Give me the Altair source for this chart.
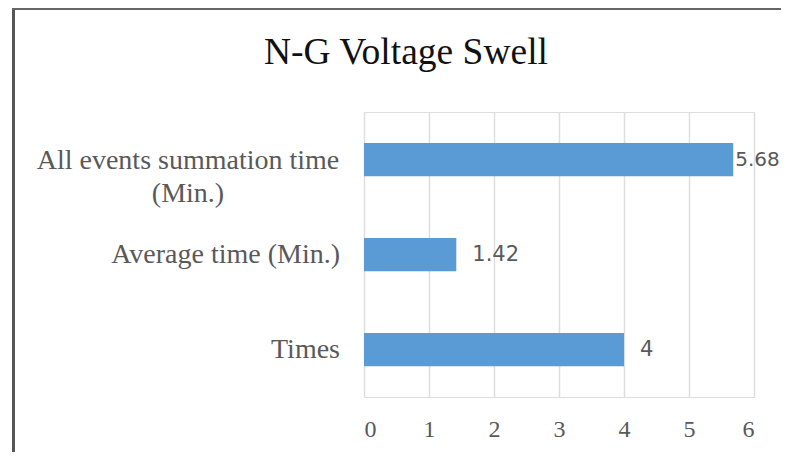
import altair as alt
import pandas as pd

# ---- data ----
categories = ["All events summation time (Min.)", "Average time (Min.)", "Times"]
label_text = ["All events summation time\n(Min.)", "Average time (Min.)", "Times"]
values = [5.68, 1.42, 4]
value_labels = ["5.68", "1.42", "4"]
x_ticks = [0, 1, 2, 3, 4, 5, 6]
title_text = "N-G Voltage Swell"

df = pd.DataFrame({
    "category": categories,
    "label": label_text,
    "value": values,
    "vlabel": value_labels,
    "multi": [True, False, False],
    "edge": [True, False, False],
})

W, H = 390, 285
PAD_L, PAD_T, PAD_R, PAD_B = 356, 104, 27, 55
GRAY = "#595959"

y_enc = alt.Y("category:N", sort=categories,
              scale=alt.Scale(paddingInner=0.65, paddingOuter=0.325),
              axis=alt.Axis(labels=False, ticks=False, domain=False, title=None, grid=False))

base = alt.Chart(df)

bars = base.mark_bar(color="#5b9bd5").encode(
    x=alt.X("value:Q", scale=alt.Scale(domain=[0, 6], nice=False),
            axis=alt.Axis(values=x_ticks, format="d", title=None, domain=False, ticks=False,
                          grid=True, gridColor="#dedede", gridWidth=1.5,
                          labelFont="Liberation Serif", labelFontSize=24,
                          labelColor=GRAY, labelPadding=20)),
    y=y_enc,
)

vals = base.transform_filter("!datum.edge").mark_text(
    align="left", baseline="middle", dx=16, font="DejaVu Sans", fontSize=21, color=GRAY
).encode(x="value:Q", y=y_enc, text="vlabel:N")

vals_edge = base.transform_filter("datum.edge").mark_text(
    align="left", baseline="middle", dx=2, font="DejaVu Sans", fontSize=20, color=GRAY
).encode(x="value:Q", y=y_enc, text="vlabel:N")

ylab_single = base.transform_filter("!datum.multi").mark_text(
    align="right", baseline="middle", font="Liberation Serif", fontSize=28, color=GRAY
).encode(x=alt.value(-24), y=y_enc, text="label:N")

ylab_multi = base.transform_filter("datum.multi").mark_text(
    align="center", baseline="middle", font="Liberation Serif", fontSize=28, color=GRAY,
    lineBreak="\n", lineHeight=33, dy=1
).encode(x=alt.value(-176), y=y_enc, text="label:N")

one = alt.Chart(pd.DataFrame({"t": [title_text]}))
title = one.mark_text(
    align="center", baseline="alphabetic", font="Liberation Serif", fontSize=37.5, color="#111111"
).encode(x=alt.value(42), y=alt.value(-48), text="t:N")

border_left = one.mark_rule(color="#555555", strokeWidth=3).encode(
    x=alt.value(-350.5), y=alt.value(-PAD_T), y2=alt.value(H + PAD_B))
border_top = one.mark_rule(color="#666666", strokeWidth=2).encode(
    x=alt.value(-352), x2=alt.value(W + PAD_R), y=alt.value(-PAD_T + 1))

chart = alt.layer(
    bars, vals, vals_edge, ylab_single, ylab_multi, title, border_left, border_top
).properties(
    width=W, height=H,
    autosize=alt.AutoSizeParams(type="none"),
    padding={"left": PAD_L, "top": PAD_T, "right": PAD_R, "bottom": PAD_B},
).configure_view(stroke=None).configure(background="white")

chart.save("out.html", embed_options={"renderer": "svg", "actions": False})
